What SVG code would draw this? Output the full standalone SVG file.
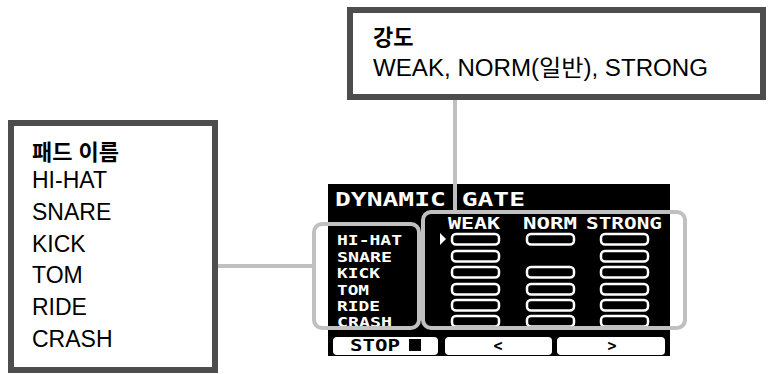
<svg xmlns="http://www.w3.org/2000/svg" width="768" height="374" viewBox="0 0 768 374">
<style>
.box{fill:#fff;stroke:#4d4d4d;stroke-width:6}
.lead{stroke:#c0c0c0;stroke-width:4;fill:none}
.lbl{font-family:"Liberation Sans","Noto Sans CJK KR",sans-serif;font-size:23px;fill:#000}
.ttl{font-family:"Liberation Sans","Noto Sans CJK KR",sans-serif;font-size:22px;font-weight:bold;fill:#000}
.px{font-family:"DejaVu Sans Mono",monospace;font-weight:bold;fill:#fff}
.bar{fill:#000;stroke:#fff;stroke-width:2.5}
.btn{fill:#fff}
.bt{font-family:"DejaVu Sans Mono",monospace;font-weight:bold;font-size:15px;fill:#000}
</style>
<g id="screen">
<rect x="328" y="184" width="342" height="172" fill="#000"/>
<text class="px" x="335" y="206" font-size="20" textLength="190" lengthAdjust="spacingAndGlyphs">DYNAMIC GATE</text>
<g font-size="15">
<text class="px" x="448" y="229" textLength="52" lengthAdjust="spacingAndGlyphs">WEAK</text>
<text class="px" x="523" y="229" textLength="54" lengthAdjust="spacingAndGlyphs">NORM</text>
<text class="px" x="586" y="229" textLength="76" lengthAdjust="spacingAndGlyphs">STRONG</text>
</g>
<g font-size="14">
<text class="px" x="337" y="245" textLength="65" lengthAdjust="spacingAndGlyphs">HI-HAT</text>
<text class="px" x="337" y="262" textLength="55" lengthAdjust="spacingAndGlyphs">SNARE</text>
<text class="px" x="337" y="278" textLength="43" lengthAdjust="spacingAndGlyphs">KICK</text>
<text class="px" x="337" y="295" textLength="32" lengthAdjust="spacingAndGlyphs">TOM</text>
<text class="px" x="337" y="311" textLength="43" lengthAdjust="spacingAndGlyphs">RIDE</text>
<text class="px" x="337" y="327" textLength="55" lengthAdjust="spacingAndGlyphs">CRASH</text>
</g>
<polygon points="440,233 446,239 440,245" fill="#fff"/>
<g id="bars">
<rect class="bar" x="452" y="234" width="47" height="10.5" rx="4"/>
<rect class="bar" x="527" y="234" width="47" height="10.5" rx="4"/>
<rect class="bar" x="601" y="234" width="47" height="10.5" rx="4"/>
<rect class="bar" x="452" y="251" width="47" height="10.5" rx="4"/>
<rect class="bar" x="601" y="251" width="47" height="10.5" rx="4"/>
<rect class="bar" x="452" y="267" width="47" height="10.5" rx="4"/>
<rect class="bar" x="527" y="267" width="47" height="10.5" rx="4"/>
<rect class="bar" x="601" y="267" width="47" height="10.5" rx="4"/>
<rect class="bar" x="452" y="284" width="47" height="10.5" rx="4"/>
<rect class="bar" x="527" y="284" width="47" height="10.5" rx="4"/>
<rect class="bar" x="601" y="284" width="47" height="10.5" rx="4"/>
<rect class="bar" x="452" y="300" width="47" height="10.5" rx="4"/>
<rect class="bar" x="527" y="300" width="47" height="10.5" rx="4"/>
<rect class="bar" x="601" y="300" width="47" height="10.5" rx="4"/>
<rect class="bar" x="452" y="316" width="47" height="10.5" rx="4"/>
<rect class="bar" x="527" y="316" width="47" height="10.5" rx="4"/>
<rect class="bar" x="601" y="316" width="47" height="10.5" rx="4"/>
</g>
<rect class="btn" x="333" y="337" width="105" height="18" rx="4"/>
<rect class="btn" x="445" y="337" width="107" height="18" rx="4"/>
<rect class="btn" x="557" y="337" width="108" height="18" rx="4"/>
<text class="bt" x="350" y="351" textLength="50" lengthAdjust="spacingAndGlyphs">STOP</text>
<rect x="409" y="339" width="12" height="12" fill="#000"/>
<text class="bt" x="498" y="351" text-anchor="middle">&lt;</text>
<text class="bt" x="612" y="351" text-anchor="middle">&gt;</text>
</g>
<g id="connectors">
<rect class="lead" x="314" y="224" width="105" height="104" rx="8"/>
<rect class="lead" x="423" y="212" width="262" height="116" rx="8"/>
<line class="lead" x1="218" y1="266" x2="314" y2="266"/>
<line class="lead" x1="455" y1="100" x2="455" y2="212"/>
</g>
<g id="pad-name">
<rect class="box" x="11" y="123" width="204" height="247"/>
<text class="ttl" x="32" y="160" font-size="23">패드 이름</text>
<text class="lbl" x="32" y="188">HI-HAT</text>
<text class="lbl" x="32" y="220">SNARE</text>
<text class="lbl" x="32" y="252">KICK</text>
<text class="lbl" x="32" y="283">TOM</text>
<text class="lbl" x="32" y="315">RIDE</text>
<text class="lbl" x="32" y="347">CRASH</text>
</g>
<g id="strength">
<rect class="box" x="350" y="10" width="413" height="87"/>
<text class="ttl" x="373" y="45">강도</text>
<text class="lbl" x="373" y="76" textLength="335" lengthAdjust="spacingAndGlyphs">WEAK, NORM(일반), STRONG</text>
</g>
</svg>
